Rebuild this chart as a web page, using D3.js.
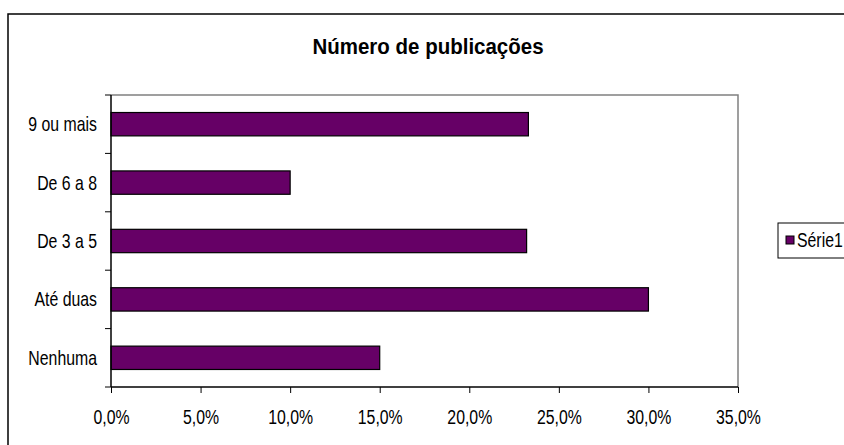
<!DOCTYPE html>
<html>
<head>
<meta charset="utf-8">
<script src="https://cdn.jsdelivr.net/npm/d3@7"></script>
<style>
  body { margin: 0; background: #fff; }
  text { font-family: "Liberation Sans", Arial, sans-serif; fill: #000; }
</style>
</head>
<body>
<div id="chart-area"></div>
<script>
// data
var categories = ["Nenhuma", "Até duas", "De 3 a 5", "De 6 a 8", "9 ou mais"];
var values = [0.150, 0.300, 0.232, 0.100, 0.233];
var xTicks = [0, 0.05, 0.10, 0.15, 0.20, 0.25, 0.30, 0.35];
var seriesName = "Série1";
var title = "Número de publicações";

var W = 844, H = 445;
var plot = {left: 111, right: 738, top: 95, bottom: 387};
var squash = "scale(0.88,1.13)";

var svg = d3.select("#chart-area")
  .append("svg")
  .attr("width", W)
  .attr("height", H);

// outer chart border (cut off at right / bottom like the picture)
svg.append("rect")
  .attr("x", 8).attr("y", 14)
  .attr("width", 900).attr("height", 500)
  .attr("fill", "#fff")
  .attr("stroke", "#000")
  .attr("stroke-width", 1.5);

var x = d3.scaleLinear().domain([0, 0.35]).range([plot.left, plot.right]);
var y = d3.scaleBand()
  .domain(categories.slice().reverse())
  .range([plot.top, plot.bottom])
  .paddingInner(0.6)
  .paddingOuter(0.3);

var fmt = function(d) { return d3.format(".1f")(d * 100).replace(".", ",") + "%"; };

// plot area frame: grey top and right
svg.append("path")
  .attr("d", "M" + plot.left + "," + plot.top + "H" + plot.right + "V" + plot.bottom)
  .attr("fill", "none")
  .attr("stroke", "#808080")
  .attr("stroke-width", 1.5);

// bars
svg.selectAll("rect.bar")
  .data(categories)
  .enter().append("rect")
  .attr("class", "bar")
  .attr("x", x(0))
  .attr("y", function(d) { return y(d); })
  .attr("width", function(d, i) { return x(values[i]) - x(0); })
  .attr("height", y.bandwidth())
  .attr("fill", "#660066")
  .attr("stroke", "#000")
  .attr("stroke-width", 1.2);

// x axis
var xAxis = svg.append("g")
  .attr("transform", "translate(0," + plot.bottom + ")")
  .call(d3.axisBottom(x).tickValues(xTicks).tickSize(6).tickFormat(fmt));
xAxis.select(".domain").attr("stroke", "#000").attr("stroke-width", 1.5)
  .attr("d", "M" + plot.left + ",0H" + plot.right);
xAxis.selectAll(".tick line").attr("stroke", "#000");
xAxis.selectAll(".tick text")
  .attr("font-size", "18px")
  .attr("font-family", "Liberation Sans, Arial, sans-serif")
  .attr("y", 0).attr("dy", 0)
  .attr("transform", "translate(0,37) " + squash);

// y axis: line plus ticks between categories
var bounds = [plot.top].concat(categories.map(function(c) { return y(c) + y.bandwidth() / 2 + y.step() / 2; }));
svg.append("line")
  .attr("x1", plot.left).attr("x2", plot.left)
  .attr("y1", plot.top).attr("y2", plot.bottom)
  .attr("stroke", "#000").attr("stroke-width", 1.5);
svg.selectAll("line.ytick")
  .data(bounds)
  .enter().append("line")
  .attr("class", "ytick")
  .attr("x1", plot.left - 6).attr("x2", plot.left)
  .attr("y1", function(d) { return d; }).attr("y2", function(d) { return d; })
  .attr("stroke", "#000");

svg.selectAll("text.ylab")
  .data(categories)
  .enter().append("text")
  .attr("class", "ylab")
  .attr("text-anchor", "end")
  .attr("font-size", "18px")
  .attr("transform", function(d) {
    return "translate(" + (plot.left - 14) + "," + (y(d) + y.bandwidth() / 2 + 7) + ") " + squash;
  })
  .text(function(d) { return d; });

// title
svg.append("text")
  .attr("text-anchor", "middle")
  .attr("font-size", "20.5px")
  .attr("font-weight", "bold")
  .attr("transform", "translate(428,54) scale(1,1.12)")
  .text(title);

// legend
var lg = svg.append("g").attr("transform", "translate(778,223)");
lg.append("rect")
  .attr("width", 80).attr("height", 35)
  .attr("fill", "#fff").attr("stroke", "#000").attr("stroke-width", 1);
lg.append("rect")
  .attr("x", 8).attr("y", 13).attr("width", 8).attr("height", 8)
  .attr("fill", "#660066").attr("stroke", "#000").attr("stroke-width", 1);
lg.append("text")
  .attr("font-size", "18px")
  .attr("transform", "translate(19,24) " + squash)
  .text(seriesName);
</script>
</body>
</html>
